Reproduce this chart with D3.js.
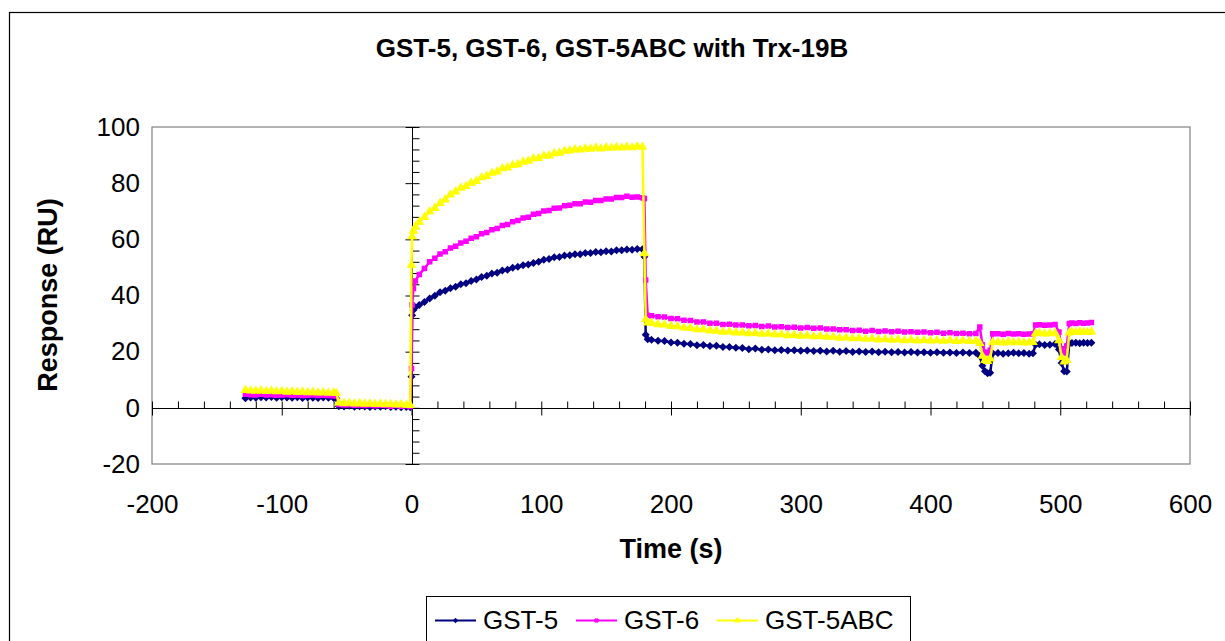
<!DOCTYPE html>
<html>
<head>
<meta charset="utf-8">
<script src="https://cdn.jsdelivr.net/npm/d3@7"></script>
<style>
  body { margin: 0; background: #fff; }
  text { font-family: Arial, "Liberation Sans", sans-serif; fill: #000; }
</style>
</head>
<body>
<svg id="chart" width="1225" height="641"></svg>
<script>
// Sensorgram sample times (s)
const times = [
  -128,-124,-120,-116,-112,-108,-104,-100,-96,-92,-88,-84,-80,-76,-72,-68,-64,-60,-58,
  -56,-52,-48,-44,-40,-36,-32,-28,-24,-20,-16,-12,-8,-4,-1,
  0,0.5,1.5,3,
  6,10,14,18,22,26,30,34,38,42,46,50,54,58,62,66,70,74,78,82,86,90,94,98,102,106,110,114,118,122,126,130,134,138,142,146,150,154,158,162,166,170,174,178,
  179.5,180.5,182,
  185,190,195,200,205,210,215,220,225,230,235,240,245,250,255,260,265,270,275,280,285,290,295,300,305,310,315,320,325,330,335,340,345,350,355,360,365,370,375,380,385,390,395,400,405,410,415,420,425,430,435,
  438,440,442,444,446,448,
  452,456,460,464,468,472,476,479,
  481,484,488,492,496,499,
  501,503,505,507,
  509,512,515,518,521,524
];

// Response (RU) per analyte
const gst5 = [
  3.4,3.7,3.6,3.8,3.7,3.9,3.6,3.8,3.7,3.6,3.8,3.5,3.7,3.6,3.5,3.7,3.6,3.5,3.4,
  0.6,0.5,0.7,0.4,0.6,0.5,0.3,0.5,0.4,0.6,0.3,0.4,0.2,0.3,0.2,
  11.1,33.0,34.8,35.8,
  36.6,37.7,38.9,39.9,41.2,41.7,42.6,43.1,44.0,44.4,45.2,45.7,46.6,47.0,47.8,48.1,48.9,49.2,49.9,50.2,50.8,51.0,51.6,52.0,52.7,53.0,53.6,53.7,54.2,54.3,54.7,54.7,55.1,55.1,55.5,55.4,55.8,55.7,56.1,56.1,56.4,56.3,56.6,56.5,
  53.8,26.0,24.4,
  24.2,23.9,23.8,23.3,23.2,22.8,22.7,22.3,22.4,22.0,22.1,21.7,21.7,21.4,21.3,20.9,21.1,20.7,20.8,20.5,20.6,20.4,20.5,20.3,20.4,20.2,20.3,20.1,20.3,20.0,20.2,19.9,20.1,19.9,20.1,19.8,20.0,19.8,19.9,19.7,19.9,19.7,19.8,19.6,19.8,19.6,19.7,19.5,19.7,19.5,19.6,
  18.5,15.0,13.0,12.3,12.5,19.4,
  19.5,19.3,19.4,19.6,19.4,19.5,19.3,19.4,
  22.5,22.6,22.4,22.5,22.7,20.8,
  16.0,13.0,12.9,23.0,
  23.1,23.2,23.0,23.2,23.1,23.2
];

const gst6 = [
  4.8,4.7,4.6,4.8,4.6,4.7,4.5,4.6,4.7,4.5,4.6,4.4,4.5,4.6,4.4,4.5,4.4,4.3,4.3,
  1.2,1.0,1.1,0.9,1.0,0.8,1.0,0.7,0.9,0.8,0.6,0.8,0.6,0.7,0.5,
  14.0,36.6,42.5,45.2,
  47.5,49.6,52.0,53.3,54.8,55.6,56.9,57.5,58.7,59.3,60.4,60.9,62.0,62.4,63.4,63.9,64.9,65.3,66.3,66.7,67.6,67.9,68.9,69.2,70.1,70.3,71.1,71.2,72.0,72.1,72.7,72.7,73.3,73.2,73.8,73.8,74.4,74.4,74.9,74.9,75.3,75.0,75.1,74.8,
  74.5,45.5,33.0,
  32.8,32.4,32.3,31.8,31.7,31.2,31.1,30.6,30.6,30.1,30.1,29.7,29.8,29.5,29.5,29.2,29.3,29.0,29.1,28.8,28.9,28.6,28.7,28.4,28.6,28.3,28.4,28.1,28.1,27.8,27.8,27.5,27.6,27.3,27.5,27.2,27.4,27.1,27.3,27.0,27.1,26.9,27.0,26.7,26.9,26.6,26.7,26.5,26.6,26.4,26.5,
  28.8,22.5,19.8,19.5,20.5,26.4,
  26.4,26.2,26.5,26.3,26.4,26.2,26.3,26.4,
  29.5,29.6,29.4,29.5,29.7,27.0,
  21.0,19.5,22.0,30.0,
  30.2,30.0,30.3,30.1,30.2,30.4
];

const gst5abc = [
  6.3,6.1,6.0,6.1,5.9,6.0,5.8,5.9,5.7,5.8,5.6,5.7,5.5,5.6,5.4,5.5,5.3,5.4,5.2,
  1.8,1.6,1.7,1.5,1.6,1.4,1.5,1.3,1.4,1.2,1.3,1.1,1.2,1.0,0.9,
  50.9,61.0,63.0,64.5,
  66.2,67.9,69.9,71.1,72.9,74.1,75.9,77.0,78.3,78.9,80.1,80.7,82.0,82.5,83.6,84.1,85.2,85.5,86.4,86.7,87.6,87.9,88.7,88.9,89.7,89.8,90.6,90.8,91.5,91.6,92.0,91.9,92.3,92.2,92.6,92.3,92.7,92.5,92.8,92.6,92.9,92.7,93.1,92.9,
  55.0,31.5,30.3,
  30.2,29.7,29.6,29.1,29.0,28.5,28.4,27.9,27.9,27.5,27.4,27.0,27.1,26.8,26.8,26.5,26.6,26.3,26.4,26.1,26.1,25.8,25.9,25.6,25.7,25.4,25.5,25.2,25.2,24.9,25.0,24.7,24.8,24.5,24.6,24.3,24.4,24.2,24.3,24.0,24.2,23.9,24.1,23.9,24.0,23.8,24.0,23.7,23.9,23.7,23.8,
  23.0,18.5,17.0,16.6,17.5,23.4,
  23.4,23.2,23.5,23.3,23.4,23.2,23.3,23.4,
  26.5,26.6,26.4,26.5,26.7,24.0,
  18.0,16.4,17.0,26.8,
  27.0,26.9,27.1,27.0,26.9,27.1
];

const seriesNames = ["GST-5", "GST-6", "GST-5ABC"];
const xTickValues = [-200, -100, 0, 100, 200, 300, 400, 500, 600];
const yTickValues = [-20, 0, 20, 40, 60, 80, 100];

const series = [
  { name: seriesNames[0], values: gst5,    color: "#000080", symbol: d3.symbolDiamond2, size: 22 },
  { name: seriesNames[1], values: gst6,    color: "#FF00FF", symbol: d3.symbolSquare,   size: 16 },
  { name: seriesNames[2], values: gst5abc, color: "#FFFF00", symbol: d3.symbolTriangle, size: 22 }
];

const svg = d3.select("#chart");
const plot = { left: 152, top: 127, right: 1190, bottom: 464 };

const x = d3.scaleLinear().domain([-200, 600]).range([plot.left, plot.right]);
const y = d3.scaleLinear().domain([-20, 100]).range([plot.bottom, plot.top]);
const fmt = d => String(d);

// outer chart frame
svg.append("rect")
  .attr("x", 9.5).attr("y", 12.5)
  .attr("width", 1240).attr("height", 660)
  .attr("fill", "#fff").attr("stroke", "#000").attr("stroke-width", 1.2);

// plot area
svg.append("rect")
  .attr("x", plot.left).attr("y", plot.top)
  .attr("width", plot.right - plot.left).attr("height", plot.bottom - plot.top)
  .attr("fill", "#fff").attr("stroke", "#808080").attr("stroke-width", 1.2);

// title
svg.append("text")
  .attr("x", 612).attr("y", 57)
  .attr("text-anchor", "middle")
  .style("font-size", "26px").style("font-weight", "bold")
  .text("GST-5, GST-6, GST-5ABC with Trx-19B");

// axis lines crossing at zero
const y0 = Math.round(y(0)) + 0.5;
const x0 = Math.round(x(0)) + 0.5;
const axes = svg.append("g").attr("stroke", "#000").attr("stroke-width", 1);
axes.append("line")
  .attr("x1", plot.left).attr("x2", plot.right)
  .attr("y1", y0).attr("y2", y0);
axes.append("line")
  .attr("x1", x0).attr("x2", x0)
  .attr("y1", plot.top).attr("y2", plot.bottom);

// x minor ticks (inside, upward) and major ticks (crossing)
const xMinor = d3.range(-200, 601, 20).filter(v => v % 100 !== 0);
svg.append("g").attr("transform", `translate(0,${y0})`)
  .call(d3.axisTop(x).tickValues(xMinor).tickSize(7).tickFormat(""))
  .call(g => g.select(".domain").remove());
svg.append("g").attr("transform", `translate(0,${y0 - 7})`)
  .call(d3.axisBottom(x).tickValues(xTickValues).tickSize(14).tickFormat(""))
  .call(g => g.select(".domain").remove());

// y minor ticks (inside, rightward) and major ticks (crossing)
const yMinor = d3.range(-20, 101, 4).filter(v => v % 20 !== 0);
svg.append("g").attr("transform", `translate(${x0},0)`)
  .call(d3.axisRight(y).tickValues(yMinor).tickSize(7).tickFormat(""))
  .call(g => g.select(".domain").remove());
svg.append("g").attr("transform", `translate(${x0 - 7},0)`)
  .call(d3.axisRight(y).tickValues(yTickValues).tickSize(14).tickFormat(""))
  .call(g => g.select(".domain").remove());

// tick labels at the plot edges
const labelStyle = g => g.selectAll("text")
  .style("font-size", "26px").attr("fill", "#000")
  .style("font-family", "Arial, 'Liberation Sans', sans-serif");
svg.append("g").attr("transform", `translate(0,${plot.bottom})`)
  .call(d3.axisBottom(x).tickValues(xTickValues).tickSize(0).tickPadding(31).tickFormat(fmt))
  .call(g => g.select(".domain").remove())
  .call(labelStyle);
svg.append("g").attr("transform", `translate(${plot.left},0)`)
  .call(d3.axisLeft(y).tickValues(yTickValues).tickSize(0).tickPadding(12).tickFormat(fmt))
  .call(g => g.select(".domain").remove())
  .call(labelStyle);

// axis titles
svg.append("text")
  .attr("x", 671).attr("y", 558)
  .attr("text-anchor", "middle")
  .style("font-size", "27px").style("font-weight", "bold")
  .text("Time (s)");
svg.append("text")
  .attr("transform", "translate(57,295) rotate(-90)")
  .attr("text-anchor", "middle")
  .style("font-size", "27px").style("font-weight", "bold")
  .text("Response (RU)");

// series
const line = d3.line().x(d => x(d[0])).y(d => y(d[1]));
const seriesG = svg.append("g");
series.forEach(s => {
  const pts = times.map((t, i) => [t, s.values[i]]);
  const g = seriesG.append("g");
  g.append("path")
    .attr("d", line(pts))
    .attr("fill", "none")
    .attr("stroke", s.color)
    .attr("stroke-width", 2.5)
    .attr("stroke-linejoin", "round");
  g.selectAll("path.pt").data(pts).join("path")
    .attr("class", "pt")
    .attr("transform", d => `translate(${x(d[0])},${y(d[1])})`)
    .attr("d", d3.symbol(s.symbol, s.size))
    .attr("fill", s.color)
    .attr("stroke", s.color)
    .attr("stroke-width", 1.5);
});

// legend
const legend = svg.append("g");
legend.append("rect")
  .attr("x", 426.5).attr("y", 596.5)
  .attr("width", 484).attr("height", 70)
  .attr("fill", "#fff").attr("stroke", "#000").attr("stroke-width", 1);
const legendX = [435, 576, 717];
series.forEach((s, i) => {
  const lx = legendX[i];
  legend.append("line")
    .attr("x1", lx).attr("x2", lx + 41)
    .attr("y1", 620.5).attr("y2", 620.5)
    .attr("stroke", s.color).attr("stroke-width", 2);
  legend.append("path")
    .attr("transform", `translate(${lx + 20.5},620.5)`)
    .attr("d", d3.symbol(s.symbol, s.size * 0.6))
    .attr("fill", s.color).attr("stroke", s.color);
  legend.append("text")
    .attr("x", lx + 48).attr("y", 629)
    .style("font-size", "26px")
    .text(s.name);
});
</script>
</body>
</html>
